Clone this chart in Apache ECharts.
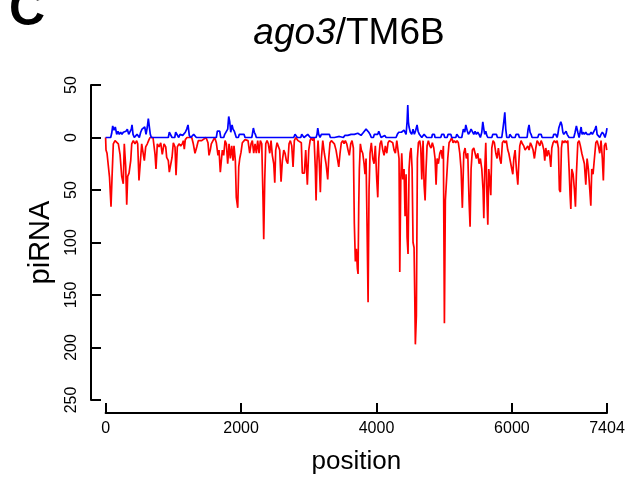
<!DOCTYPE html>
<html>
<head>
<meta charset="utf-8">
<script src="https://cdn.jsdelivr.net/npm/echarts@6/dist/echarts.min.js"></script>
<style>
html,body{margin:0;padding:0;background:#fff;}
#chart{width:629px;height:480px;}
</style>
</head>
<body>
<div id="chart"></div>
<script>
// positions (nt) and read counts; red = antisense (plotted downward), blue = sense (upward)
const redPos = [0,6,21,35,58,80,95,114,139,164,188,213,238,261,276,297,312,326,346,371,386,409,434,459,474,493,508,533,557,572,592,616,641,656,700,730,744,764,789,814,837,863,888,902,926,941,962,981,1000,1025,1040,1059,1084,1109,1133,1148,1162,1177,1202,1272,1295,1320,1346,1369,1394,1419,1443,1483,1512,1527,1546,1561,1586,1611,1635,1660,1675,1694,1709,1724,1744,1764,1783,1803,1823,1842,1862,1882,1896,1916,1930,1951,1966,1981,2000,2019,2040,2059,2078,2103,2128,2148,2167,2187,2207,2226,2246,2266,2285,2306,2325,2335,2350,2365,2384,2403,2424,2443,2462,2483,2498,2512,2532,2551,2571,2591,2610,2631,2650,2669,2690,2709,2728,2749,2768,2787,2808,2842,2867,2890,2905,2935,2955,2979,3000,3020,3038,3059,3078,3097,3108,3122,3137,3156,3171,3186,3207,3230,3255,3280,3295,3314,3334,3354,3378,3403,3428,3443,3462,3481,3502,3521,3540,3561,3580,3599,3620,3639,3659,3673,3688,3703,3718,3728,3738,3747,3762,3777,3797,3817,3831,3846,3861,3876,3890,3905,3924,3945,3964,3983,4004,4019,4034,4053,4072,4093,4112,4131,4152,4171,4190,4215,4240,4260,4279,4300,4319,4333,4344,4359,4373,4388,4407,4422,4437,4452,4466,4481,4496,4511,4526,4540,4555,4565,4574,4589,4604,4619,4639,4654,4669,4688,4703,4718,4732,4747,4766,4787,4806,4825,4846,4865,4880,4895,4914,4935,4954,4973,4988,5003,5017,5032,5053,5072,5091,5112,5131,5150,5171,5190,5209,5230,5249,5268,5289,5308,5327,5348,5367,5382,5397,5416,5437,5456,5475,5496,5515,5534,5555,5574,5585,5599,5614,5633,5644,5658,5673,5688,5703,5722,5741,5762,5781,5800,5821,5840,5859,5880,5899,5918,5939,5954,5977,5998,6013,6028,6047,6066,6087,6101,6116,6135,6155,6175,6195,6214,6234,6253,6273,6293,6313,6332,6353,6372,6391,6412,6431,6450,6471,6485,6500,6519,6539,6559,6574,6589,6608,6627,6648,6667,6686,6701,6716,6731,6745,6766,6785,6805,6825,6844,6859,6870,6884,6904,6923,6938,6952,6973,6992,7011,7032,7051,7070,7091,7110,7129,7150,7165,7179,7198,7218,7239,7258,7277,7297,7316,7335,7350,7365,7385,7400];
const redVal = [0,12,15,16,38,66,38,6,3,2,6,16,37,44,6,28,64,37,34,22,6,3,6,3,6,41,41,6,5,22,9,6,2,0,0,16,30,6,9,5,16,6,9,19,22,33,33,19,5,9,36,9,6,8,6,3,11,2,0,0,6,15,9,3,2,3,2,0,5,17,12,6,3,0,5,17,12,33,22,12,17,3,6,25,6,20,8,22,8,22,57,67,28,20,14,5,5,2,3,3,15,6,3,15,6,15,3,15,3,6,60,97,40,6,3,6,15,3,17,25,43,12,5,6,12,42,22,12,15,22,25,6,3,8,28,3,0,3,2,5,34,34,12,45,12,3,0,3,0,30,60,22,3,25,52,20,3,15,25,40,20,5,3,3,6,12,22,28,15,5,3,6,3,6,12,17,6,3,10,82,118,106,125,130,65,30,6,12,15,25,35,20,85,157,50,15,5,20,25,8,40,57,20,6,3,12,17,8,15,5,3,3,5,12,15,3,3,20,128,40,15,40,30,75,35,95,111,30,15,10,30,100,105,150,197,170,20,5,3,10,40,3,45,60,30,8,3,8,10,5,10,20,45,20,25,15,12,20,8,177,60,60,20,5,3,0,5,3,5,3,5,15,30,67,15,10,20,15,60,85,30,12,10,15,20,15,25,20,30,50,77,30,5,60,83,30,40,55,10,3,5,15,20,10,20,25,5,3,5,3,12,15,15,30,35,20,12,30,45,25,8,3,6,8,12,12,8,12,5,8,12,20,10,3,5,8,3,6,12,22,10,18,12,18,28,10,5,3,5,3,10,50,52,10,3,5,3,5,3,30,55,68,30,35,50,66,35,5,3,8,15,20,25,45,20,30,50,65,30,35,20,5,3,8,15,3,20,41,8,5,12];
const bluePos = [0,75,90,105,124,143,164,183,202,223,242,261,282,301,321,341,360,380,390,405,424,445,464,483,498,518,538,557,578,597,616,631,645,660,675,926,941,962,981,1021,1035,1059,1080,1099,1118,1139,1158,1177,1198,1217,1236,1257,1286,1301,1325,1340,1635,1650,1685,1700,1744,1759,1783,1803,1818,1833,1848,1867,1882,1901,1916,1930,1960,1975,2044,2059,2158,2167,2182,2196,2211,2226,2778,2797,2817,2831,2882,2896,2916,2930,2959,2985,3009,3023,3108,3122,3133,3147,3167,3186,3304,3319,3378,3393,3452,3477,3511,3532,3551,3576,3599,3625,3650,3673,3698,3724,3747,3772,3797,3821,3846,3871,3886,3905,3924,3954,3969,4019,4034,4053,4068,4122,4142,4289,4308,4329,4348,4368,4388,4407,4422,4437,4452,4462,4471,4481,4500,4521,4540,4559,4580,4599,4614,4633,4654,4669,4688,4703,4728,4743,4816,4825,4855,4865,4949,4964,4994,5008,5043,5057,5097,5112,5171,5186,5209,5220,5259,5268,5283,5304,5319,5338,5357,5378,5397,5416,5437,5456,5475,5496,5515,5534,5555,5570,5585,5599,5614,5629,5644,5703,5718,5771,5786,5850,5865,5880,5895,5909,5924,5958,5969,5983,6003,6047,6062,6096,6110,6224,6239,6253,6268,6283,6298,6382,6397,6431,6446,6604,6618,6648,6667,6678,6692,6707,6722,6737,6752,6766,6785,6800,6815,6830,6844,6914,6933,6952,6973,6992,7007,7022,7036,7051,7070,7091,7110,7129,7150,7169,7188,7209,7228,7243,7258,7277,7297,7316,7335,7356,7375,7394,7404];
const blueVal = [0,0,4,11,7,10,3,6,3,5,3,5,4,6,8,3,2,8,12,3,0,0,3,3,0,5,8,8,10,3,10,18,18,3,0,0,5,5,0,0,5,5,0,3,3,2,3,5,8,12,2,0,0,3,3,0,0,6,6,0,0,3,3,8,20,15,5,12,8,6,6,0,0,3,3,0,0,3,9,5,3,0,0,3,3,0,0,3,3,0,0,3,3,0,0,3,9,3,0,3,3,0,0,1,1,0,0,2,3,2,2,3,4,3,3,4,3,2,4,6,8,9,5,3,0,0,3,3,6,6,0,2,0,0,3,5,6,5,5,7,6,3,15,31,15,10,5,3,8,3,7,12,6,3,3,0,0,3,3,0,0,3,3,0,0,3,3,0,0,3,3,0,0,3,3,0,0,3,8,5,12,7,3,5,8,7,3,6,3,5,3,0,5,15,8,3,6,2,0,0,3,3,0,0,7,15,24,8,0,0,3,3,0,0,3,3,0,0,8,12,5,3,0,0,3,3,0,0,3,3,0,3,9,8,15,12,5,3,3,6,3,3,0,0,5,11,5,0,5,10,3,5,3,5,3,2,3,5,3,3,8,11,3,2,0,3,5,3,0,5,9];
const xTicks = [0, 2000, 4000, 6000, 7404];
const yTickLabels = ['250','200','150','100','50','0','50'];

const redData = redPos.map((p, i) => [p, -redVal[i]]);
const blueData = bluePos.map((p, i) => [p, blueVal[i]]);

const chart = echarts.init(document.getElementById('chart'), null, {renderer: 'canvas'});
const FONT = '"Liberation Sans", Arial, Helvetica, sans-serif';
chart.setOption({
  animation: false,
  backgroundColor: '#ffffff',
  textStyle: {fontFamily: FONT},
  title: {
    text: '{i|ago3}/TM6B',
    left: 344,
    textAlign: 'center',
    top: 10,
    textStyle: {
      fontFamily: FONT, fontSize: 37, fontWeight: 'normal', color: '#000',
      rich: {i: {fontFamily: FONT, fontSize: 37, fontStyle: 'italic', color: '#000'}}
    }
  },
  graphic: [{
    type: 'text', left: 9, top: -14,
    style: {text: 'C', fontFamily: FONT, fontSize: 50, fontWeight: 'bold', fill: '#000'}
  }],
  grid: {left: 105.6, right: 22, top: 85, bottom: 76.7, containLabel: false},
  xAxis: {
    type: 'value', min: 0, max: 7404, interval: 2000,
    offset: 13,
    name: 'position', nameLocation: 'middle', nameGap: 36,
    nameTextStyle: {fontFamily: FONT, fontSize: 26, color: '#000'},
    axisLine: {show: true, onZero: false, lineStyle: {color: '#000', width: 2}},
    axisTick: {show: true, inside: true, length: 10, lineStyle: {color: '#000', width: 2}},
    axisLabel: {
      margin: 8, color: '#000', fontFamily: FONT, fontSize: 16,
      showMaxLabel: true, showMinLabel: true,
      formatter: v => (xTicks.includes(v) ? String(v) : '')
    },
    splitLine: {show: false}
  },
  yAxis: {
    type: 'value', min: -250, max: 50, interval: 50,
    offset: 14.6,
    name: 'piRNA', nameLocation: 'middle', nameRotate: 90, nameGap: 36,
    nameTextStyle: {fontFamily: FONT, fontSize: 29, color: '#000'},
    axisLine: {show: true, onZero: false, lineStyle: {color: '#000', width: 2}},
    axisTick: {show: true, inside: true, length: 10, lineStyle: {color: '#000', width: 2}},
    axisLabel: {
      rotate: 90, margin: 11, color: '#000', fontFamily: FONT, fontSize: 16,
      formatter: v => yTickLabels[Math.round((v + 250) / 50)]
    },
    splitLine: {show: false}
  },
  series: [
    {
      type: 'line', data: redData, showSymbol: false, symbol: 'none',
      lineStyle: {color: '#ff0000', width: 1.7}, z: 2, clip: false
    },
    {
      type: 'line', data: blueData, showSymbol: false, symbol: 'none',
      lineStyle: {color: '#0000ff', width: 1.7}, z: 3, clip: false
    }
  ]
});
</script>
</body>
</html>
